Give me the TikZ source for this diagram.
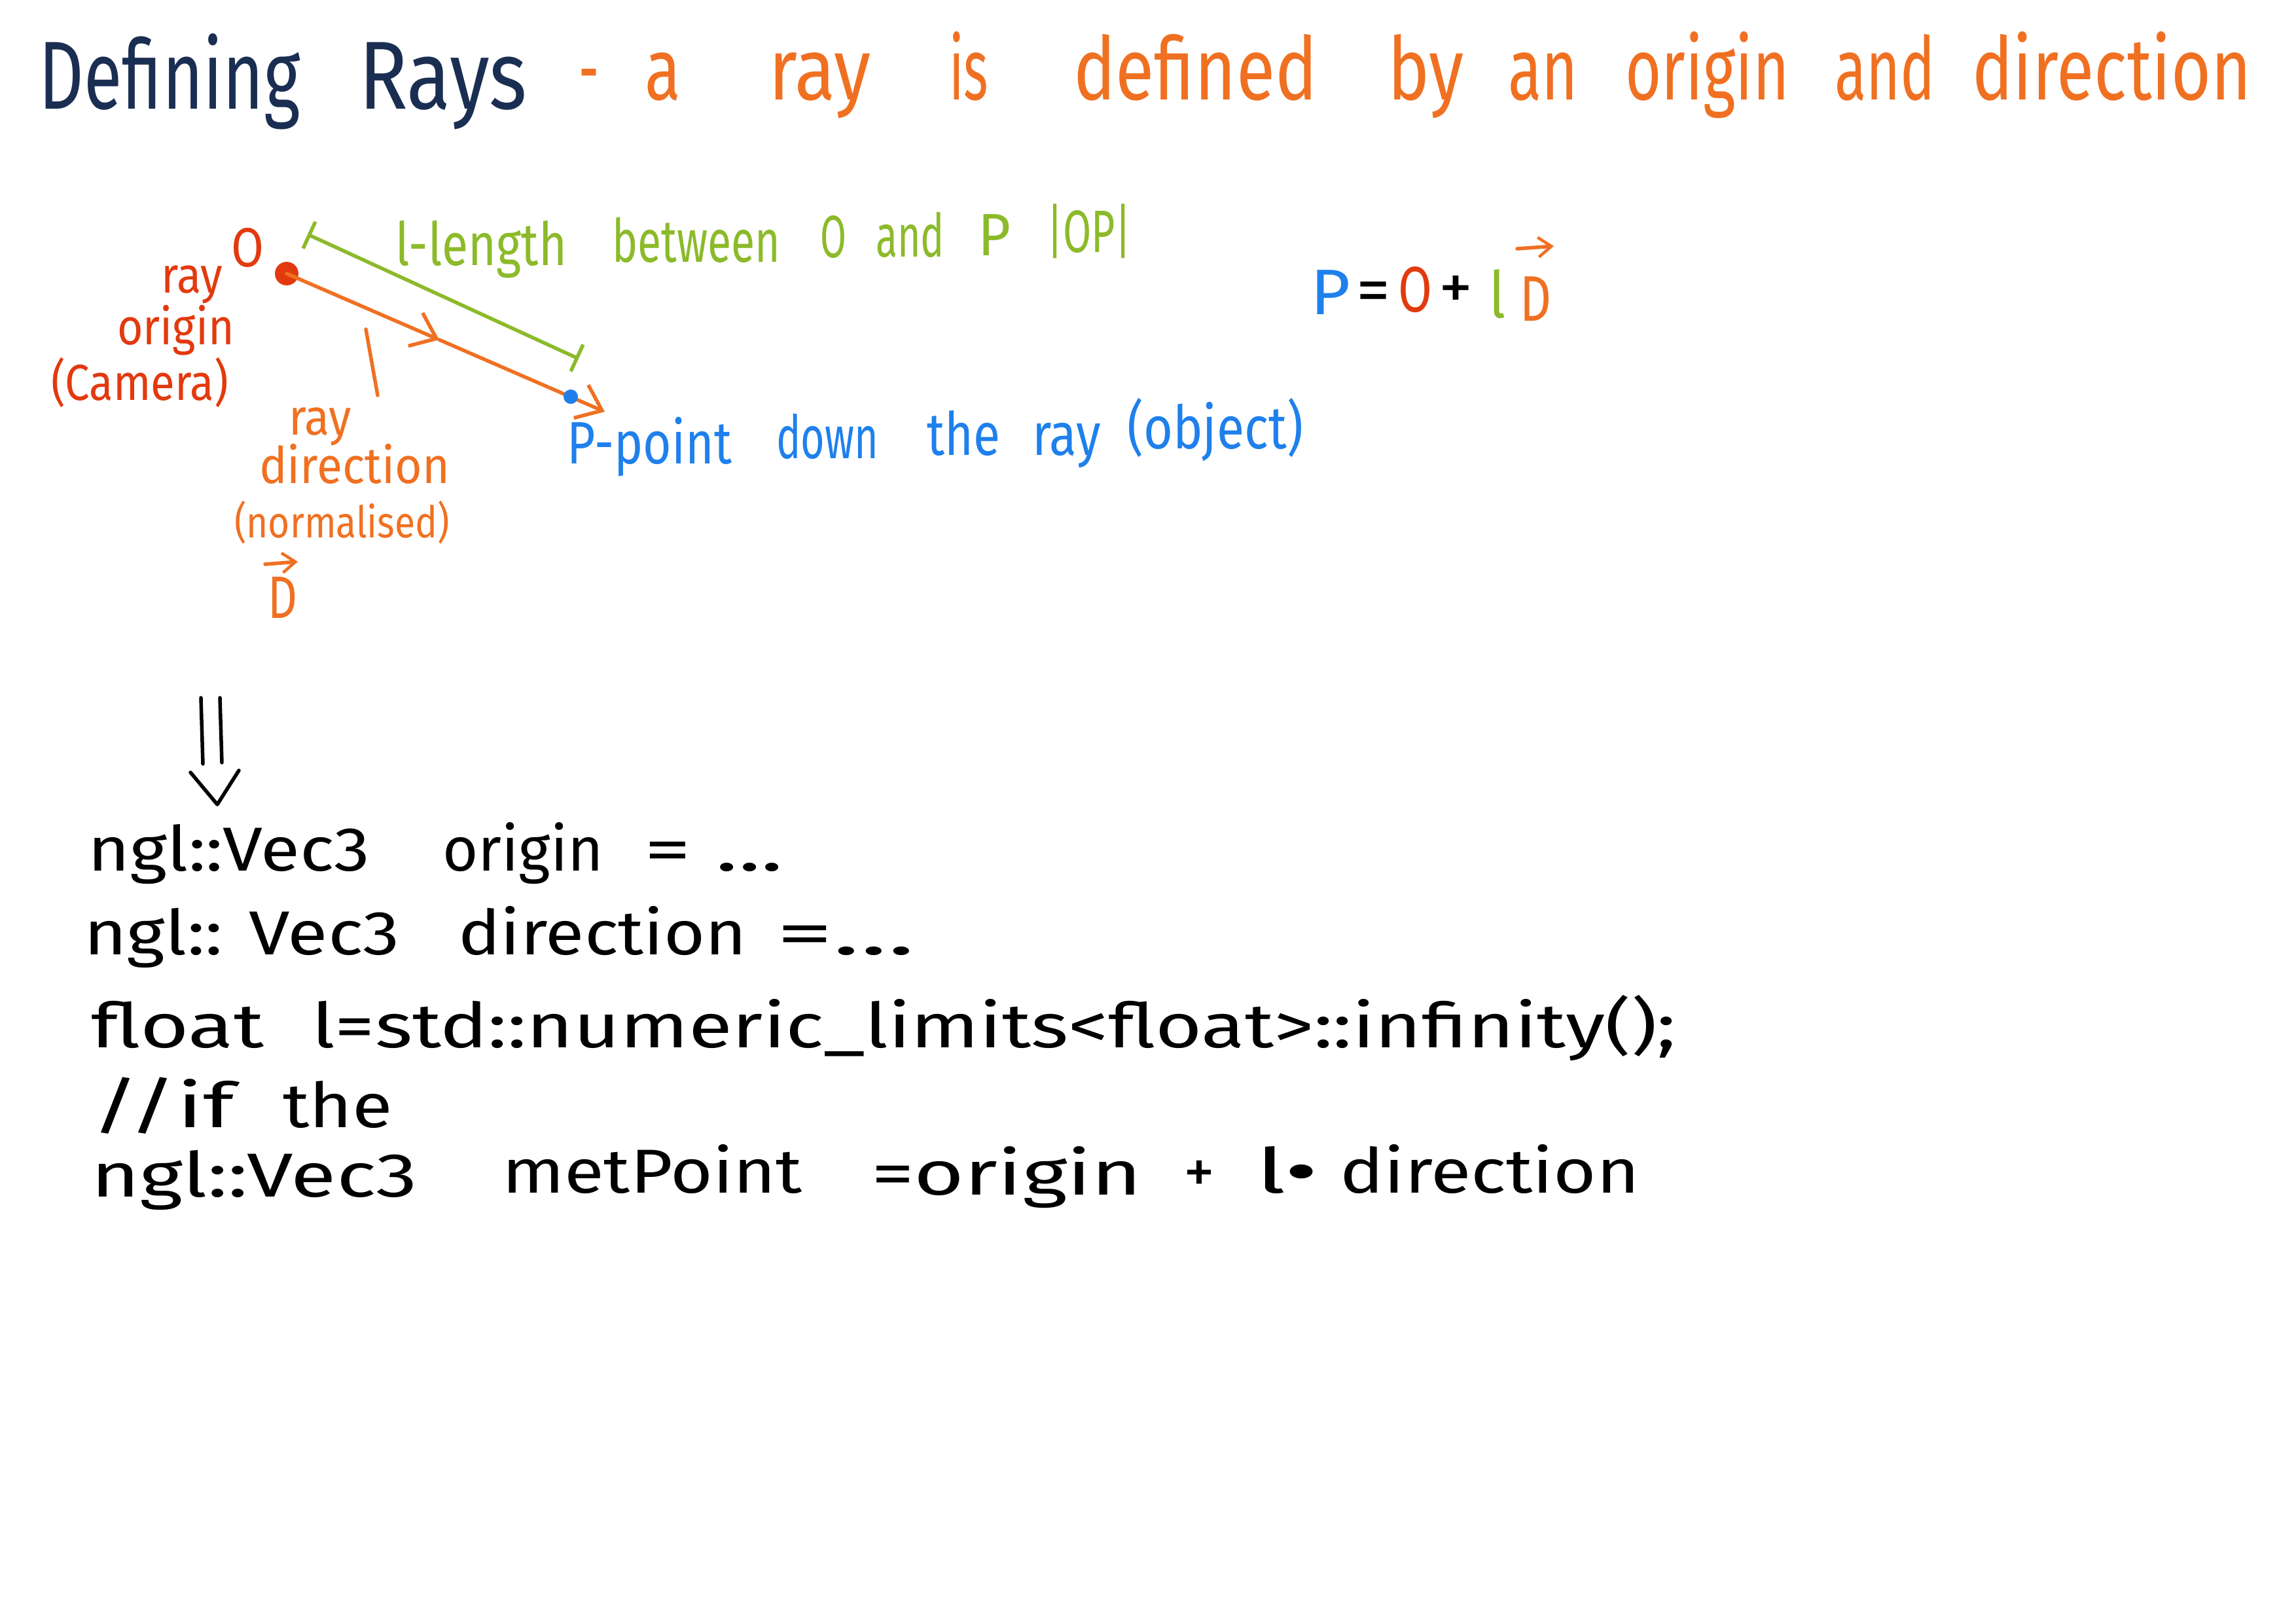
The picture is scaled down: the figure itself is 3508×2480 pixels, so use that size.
\documentclass[tikz,border=0pt]{standalone}
\usepackage{graphicx}
\usepackage{fontspec}
\setmainfont{Fira Sans}
\usetikzlibrary{arrows.meta}
\newsavebox\fitbox
\newlength\fitdim
\newcommand\fitw[2]{\sbox\fitbox{#2}\setlength\fitdim{\wd\fitbox}\pgfmathsetmacro\fitr{#1*0.284527/\fitdim}\scalebox{\fitr}[1]{\usebox\fitbox}}
\definecolor{navy}{HTML}{1A2E52}
\definecolor{torange}{HTML}{F07022}
\definecolor{tred}{HTML}{E23A0E}
\definecolor{tgreen}{HTML}{8CBA2A}
\definecolor{tblue}{HTML}{1F80EC}
\begin{document}
\begin{tikzpicture}[x=0.1mm,y=-0.1mm,
  wrd/.style={inner sep=0pt, outer sep=0pt, anchor=base west},
  fs/.style={font=\fontsize{#1}{#1}\selectfont},
  ttl/.style={wrd, fs=42, text=navy},
  tto/.style={wrd, fs=38, text=torange},
  lbl/.style={wrd, fs=22, text=#1},
  grn/.style={wrd, fs=26, text=tgreen},
  blu/.style={wrd, fs=26, text=tblue},
  eqn/.style={wrd, fs=28, text=#1},
  code/.style={wrd, fs=27, text=black},
  pen/.style={line width=0.55mm, line cap=round, #1},
  barb/.style={-{Straight Barb[length=3.5mm,width=5.5mm,line width=0.55mm]}}
]
\fill[white] (0,0) rectangle (3508,2480);
\useasboundingbox (0,0) rectangle (3508,2480);

% Title
\node[ttl] (t1) at (60,166) {\fitw{399}{Defining}};
\node[ttl] (t2) at (548,166) {\fitw{257}{Rays}};
\node[tto] (t3) at (884,152) {\fitw{31}{-}};
\node[tto] (t4) at (985,152) {\fitw{55}{a}};
\node[tto] (t5) at (1174,152) {\fitw{157}{ray}};
\node[tto] (t6) at (1450,152) {\fitw{60}{is}};
\node[tto] (t7) at (1640,152) {\fitw{373}{defined}};
\node[tto] (t8) at (2120,152) {\fitw{117}{by}};
\node[tto] (t9) at (2304,152) {\fitw{107}{an}};
\node[tto] (t10) at (2483,152) {\fitw{251}{origin}};
\node[tto] (t11) at (2803,152) {\fitw{154}{and}};
\node[tto] (t12) at (3013,152) {\fitw{427}{direction}};

% Origin labels
\node[wrd, fs=24, text=tred] (lO) at (353,407) {\fitw{50}{O}};
\node[lbl=tred] (lr1) at (246,447) {\fitw{94}{ray}};
\node[lbl=tred] (lr2) at (179,526) {\fitw{179}{origin}};
\node[lbl=tred] (lr3) at (78,611) {\fitw{271}{(Camera)}};

% Direction labels
\node[lbl=torange] (ld1) at (441,664) {\fitw{96}{ray}};
\node[lbl=torange] (ld2) at (396,738) {\fitw{291}{direction}};
\node[wrd, fs=19, text=torange] (ld3) at (358,821) {\fitw{329}{(normalised)}};
\node[wrd, fs=26, text=torange] (ld4) at (409,944) {\fitw{45}{D}};
\coordinate (va1) at (405,862);
\coordinate (va2) at (455,858);
\draw[pen=torange, -{Straight Barb[length=2mm,width=3mm,line width=0.45mm]}] (va1) -- (va2);

% Green length label
\node[grn] (g1) at (604,405) {\fitw{262}{l-length}};
\node[grn] (g2) at (935,400) {\fitw{257}{between}};
\node[grn] (g3) at (1253,393) {\fitw{40}{O}};
\node[grn] (g4) at (1338,392) {\fitw{105}{and}};
\node[grn] (g5) at (1494,390) {\fitw{50}{P}};
\node[grn] (g6) at (1599,385) {\fitw{130}{|OP|}};

% Blue point label
\node[blu] (b1) at (866,708) {\fitw{252}{P-point}};
\node[blu] (b2) at (1186,700) {\fitw{156}{down}};
\node[blu] (b3) at (1416,695) {\fitw{112}{the}};
\node[blu] (b4) at (1577,695) {\fitw{105}{ray}};
\node[blu] (b5) at (1722,685) {\fitw{269}{(object)}};

% Equation
\node[eqn=tblue] (e1) at (2002,480) {\fitw{61}{P}};
\node[eqn=black] (e2) at (2072,476) {\fitw{52}{=}};
\node[eqn=tred] (e3) at (2136,476) {\fitw{52}{O}};
\node[eqn=black] (e4) at (2198,472) {\fitw{52}{+}};
\node[eqn=tgreen] (e5) at (2275,485) {\fitw{25}{l}};
\node[eqn=torange] (e6) at (2322,490) {\fitw{48}{D}};
\coordinate (ea1) at (2318,380);
\coordinate (ea2) at (2374,376);
\draw[pen=torange, -{Straight Barb[length=2mm,width=3mm,line width=0.45mm]}] (ea1) -- (ea2);

% Ray drawing
\node[circle, fill=tred, minimum size=3.6mm, inner sep=0pt] (od) at (438,418) {};
\coordinate (mid) at (671,519);
\coordinate (tip) at (924,629);
\draw[pen=torange, barb] (od.center) -- (mid);
\draw[pen=torange, barb] (mid) -- (tip);
\node[circle, fill=tblue, minimum size=2.2mm, inner sep=0pt] (pd) at (872,606) {};
\coordinate (ga) at (470,358);
\coordinate (gb) at (884,548);
\draw[pen=tgreen, line cap=butt, {Bar[width=4.5mm,line width=0.55mm]}-{Bar[width=4.5mm,line width=0.55mm]}] (ga) -- (gb);
\coordinate (pa) at (559,503);
\coordinate (pb) at (577,604);
\draw[pen=torange] (pa) -- (pb);

% Implies arrow
\coordinate (da1) at (307,1066);
\coordinate (da2) at (310,1167);
\coordinate (db1) at (336,1066);
\coordinate (db2) at (339,1165);
\coordinate (v1) at (291,1180);
\coordinate (v2) at (332,1229);
\coordinate (v3) at (365,1177);
\draw[pen=black] (da1) -- (da2);
\draw[pen=black] (db1) -- (db2);
\draw[pen=black, line join=round] (v1) -- (v2) -- (v3);

% Code
\node[code] (c1) at (134,1330) {\fitw{431}{ngl::Vec3}};
\node[code] (c2) at (676,1330) {\fitw{246}{origin}};
\node[code] (c3) at (984,1330) {\fitw{213}{= ...}};
\node[code] (c4) at (128,1458) {\fitw{483}{ngl:: Vec3}};
\node[code] (c5) at (700,1458) {\fitw{441}{direction}};
\node[code] (c6) at (1186,1458) {\fitw{212}{=...}};
\node[code] (c7) at (139,1600) {\fitw{264}{float}};
\node[code] (c8) at (476,1600) {\fitw{2085}{l=std::numeric\_limits<float>::infinity();}};
\node[code] (c9) at (139,1722) {\fitw{219}{//if}};
\node[code] (c10) at (432,1722) {\fitw{168}{the}};
\node[code] (c11) at (139,1828) {\fitw{499}{ngl::Vec3}};
\node[code] (c12) at (767,1822) {\fitw{459}{metPoint}};
\node[code] (c13) at (1331,1825) {\fitw{414}{=origin}};
\node[code] (c14) at (1808,1822) {\fitw{48}{+}};
\node[code] (c15) at (1919,1822) {\fitw{94}{l\textbullet}};
\node[code] (c16) at (2047,1822) {\fitw{458}{direction}};
\end{tikzpicture}
\end{document}
